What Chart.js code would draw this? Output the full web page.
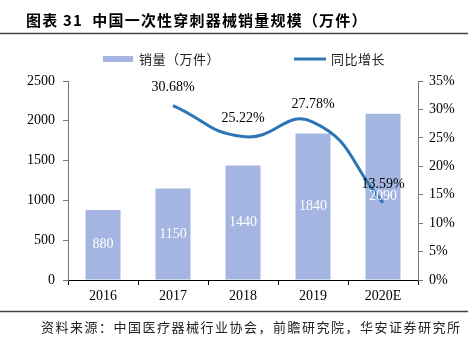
<!DOCTYPE html>
<html>
<head>
<meta charset="utf-8">
<script src="https://cdn.jsdelivr.net/npm/chart.js@4/dist/chart.umd.min.js"></script>
<style>
  body { margin: 0; background: #fff; }
  #wrap { position: relative; width: 475px; height: 345px; }
</style>
</head>
<body>
<div id="wrap"><canvas id="chart" width="475" height="345"></canvas></div>
<script>
const years = ['2016', '2017', '2018', '2019', '2020E'];
const sales = [880, 1150, 1440, 1840, 2090];
const growth = [null, 30.68, 25.22, 27.78, 13.59];
const salesTicks = [0, 500, 1000, 1500, 2000, 2500];
const growthTicks = [0, 5, 10, 15, 20, 25, 30, 35];

const titleText = '图表 31  中国一次性穿刺器械销量规模（万件）';
const legendLabels = ['销量（万件）', '同比增长'];
const sourceText = '资料来源：中国医疗器械行业协会，前瞻研究院，华安证券研究所';

const barColor = '#a3b5e0';
const lineColor = '#2e75b6';
const serif = "'Liberation Serif', serif";
const cjk = "'Noto Sans CJK SC', sans-serif";

Chart.defaults.font.family = serif;

// title, rules, legend, footer and value labels
const decor = {
  id: 'decor',
  afterDraw(chart) {
    const ctx = chart.ctx;
    ctx.save();
    ctx.fillStyle = '#000';
    ctx.font = 'bold 15px ' + cjk;
    ctx.textBaseline = 'middle';
    ctx.textAlign = 'left';
    ctx.letterSpacing = '1.2px';
    ctx.fillText(titleText, 26, 20);

    ctx.strokeStyle = '#444';
    ctx.lineWidth = 1.5;
    ctx.beginPath();
    ctx.moveTo(0, 33.5); ctx.lineTo(468, 33.5);
    ctx.moveTo(0, 311.5); ctx.lineTo(468, 311.5);
    ctx.stroke();

    // legend
    ctx.fillStyle = barColor;
    ctx.fillRect(103, 56, 30, 6);
    ctx.strokeStyle = lineColor;
    ctx.lineWidth = 3;
    ctx.beginPath();
    ctx.moveTo(294, 59); ctx.lineTo(326, 59);
    ctx.stroke();
    ctx.fillStyle = '#222';
    ctx.font = '13px ' + cjk;
    ctx.letterSpacing = '0.5px';
    ctx.fillText(legendLabels[0], 139, 59);
    ctx.fillText(legendLabels[1], 331, 59);

    // footer
    ctx.font = '13px ' + cjk;
    ctx.letterSpacing = '1.5px';
    ctx.fillStyle = '#222';
    ctx.fillText(sourceText, 41, 327);

    // value labels
    ctx.letterSpacing = '0px';
    ctx.font = '14px ' + serif;
    ctx.textAlign = 'center';
    const barMeta = chart.getDatasetMeta(0);
    ctx.fillStyle = '#fff';
    barMeta.data.forEach((bar, i) => {
      ctx.fillText(String(sales[i]), bar.x, (bar.y + bar.base) / 2);
    });
    const lineMeta = chart.getDatasetMeta(1);
    ctx.fillStyle = '#000';
    lineMeta.data.forEach((pt, i) => {
      if (growth[i] == null) return;
      ctx.fillText(growth[i].toFixed(2) + '%', pt.x, pt.y - 18);
    });
    ctx.restore();
  }
};

new Chart(document.getElementById('chart'), {
  data: {
    labels: years,
    datasets: [
      {
        type: 'bar',
        label: legendLabels[0],
        data: sales,
        backgroundColor: barColor,
        yAxisID: 'y',
        categoryPercentage: 1,
        barPercentage: 0.5,
        order: 2
      },
      {
        type: 'line',
        label: legendLabels[1],
        data: growth,
        borderColor: lineColor,
        borderWidth: 3,
        pointRadius: 0,
        tension: 0.5,
        yAxisID: 'y1',
        order: 1
      }
    ]
  },
  options: {
    responsive: false,
    animation: false,
    layout: { padding: { top: 81, left: 0, right: 0, bottom: 0 } },
    plugins: { legend: { display: false }, tooltip: { enabled: false } },
    scales: {
      x: {
        afterFit: s => { s.height = 65; },
        grid: { display: true, drawOnChartArea: false, offset: true, tickLength: 5, color: '#000' },
        border: { color: '#000', width: 1 },
        ticks: { color: '#000', font: { family: serif, size: 14 }, padding: 3 }
      },
      y: {
        position: 'left',
        min: 0, max: 2500,
        afterFit: s => { s.width = 68; },
        afterBuildTicks: s => { s.ticks = salesTicks.map(v => ({ value: v })); },
        grid: { display: true, drawOnChartArea: false, tickLength: 5, color: '#777' },
        border: { color: '#777', width: 1 },
        ticks: { color: '#000', font: { family: serif, size: 14 }, padding: 8, callback: v => String(v) }
      },
      y1: {
        position: 'right',
        min: 0, max: 35,
        afterFit: s => { s.width = 57; },
        afterBuildTicks: s => { s.ticks = growthTicks.map(v => ({ value: v })); },
        grid: { display: true, drawOnChartArea: false, tickLength: 5, color: '#777' },
        border: { color: '#777', width: 1 },
        ticks: { color: '#000', font: { family: serif, size: 14 }, padding: 6, callback: v => v + '%' }
      }
    }
  },
  plugins: [decor]
});
</script>
</body>
</html>
